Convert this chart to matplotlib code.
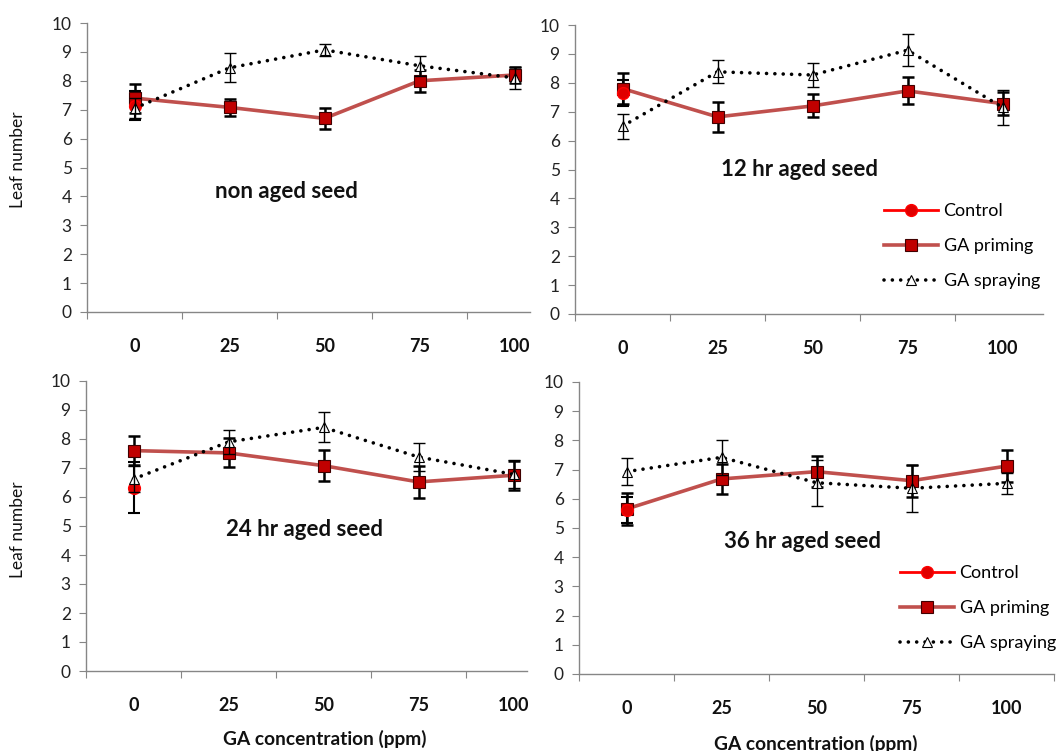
import numpy as np
import matplotlib.pyplot as plt
from matplotlib.lines import Line2D

plt.rcParams['font.family'] = ['Lato', 'DejaVu Sans']

W, H = 1057, 751

conc = ['0', '25', '50', '75', '100']
x = np.arange(5)

titles = ['non aged seed', '12 hr aged seed', '24 hr aged seed', '36 hr aged seed']

# control only at 0 ppm
control = [7.13, 7.64, 6.32, 5.62]
control_err = [0.5, 0.45, 0.87, 0.45]

priming = [
    [7.40, 7.08, 6.70, 8.00, 8.20],
    [7.80, 6.82, 7.20, 7.72, 7.28],
    [7.60, 7.52, 7.08, 6.52, 6.75],
    [5.65, 6.68, 6.93, 6.62, 7.12],
]
priming_err = [
    [0.50, 0.30, 0.37, 0.38, 0.27],
    [0.55, 0.52, 0.40, 0.47, 0.41],
    [0.50, 0.50, 0.53, 0.56, 0.50],
    [0.55, 0.52, 0.53, 0.55, 0.55],
]
spraying = [
    [7.05, 8.45, 9.07, 8.52, 8.10],
    [6.50, 8.38, 8.27, 9.13, 7.15],
    [6.62, 7.90, 8.40, 7.38, 6.78],
    [6.93, 7.42, 6.55, 6.36, 6.53],
]
spraying_err = [
    [0.35, 0.50, 0.22, 0.35, 0.38],
    [0.43, 0.40, 0.43, 0.55, 0.60],
    [0.45, 0.40, 0.52, 0.47, 0.48],
    [0.47, 0.60, 0.78, 0.80, 0.36],
]

# panel boxes in pixels: x0, x1, ytop(10), ybottom(0)
boxes = [(87, 530, 23, 312), (575, 1043, 25, 314),
         (86, 527, 381, 671), (579, 1054, 382, 674)]
title_pos = [(286, 192), (799, 170), (305, 529), (803, 542)]
legend_pos = {1: (884, 246), 3: (900, 608)}

prim_line = '#C0504D'
prim_face = '#C00000'
axis_col = '#868686'
dots = (0, (0.01, 2.3))

fig = plt.figure(figsize=(W / 100, H / 100), dpi=100)

for i in range(4):
    x0, x1, yt, yb = boxes[i]
    ax = fig.add_axes([x0 / W, 1 - yb / H, (x1 - x0) / W, (yb - yt) / H])
    xmax = -0.5 + (x1 - x0) / 95.0
    ax.set_xlim(-0.5, xmax)
    ax.set_ylim(0, 10)
    for s in ['top', 'right']:
        ax.spines[s].set_visible(False)
    for s in ['left', 'bottom']:
        ax.spines[s].set_color(axis_col)
        ax.spines[s].set_linewidth(1)

    ax.set_yticks(range(11))
    ax.tick_params(axis='y', direction='out', length=5, color=axis_col,
                   labelsize=12.5, labelcolor='#222222', pad=6)
    bounds = [b for b in np.arange(-0.5, 5, 1) if b <= xmax + 1e-6]
    ax.set_xticks(bounds)
    ax.set_xticklabels([])
    ax.set_xticks(x, minor=True)
    ax.set_xticklabels(conc, minor=True, fontweight='bold', fontsize=13)
    ax.tick_params(axis='x', which='major', direction='out', length=5, color=axis_col)
    ax.tick_params(axis='x', which='minor', length=0, pad=19, labelcolor='#111111')

    # GA priming
    ax.errorbar(x, priming[i], yerr=priming_err[i], fmt='none', ecolor='black',
                elinewidth=1.8, capsize=4, capthick=1.8, zorder=3)
    ax.plot(x, priming[i], color=prim_line, lw=2.6, marker='s', ms=8.5,
            mfc=prim_face, mec='#400000', mew=0.8, zorder=4)
    # control
    ax.errorbar([0], [control[i]], yerr=[control_err[i]], fmt='none', ecolor='black',
                elinewidth=1.5, capsize=4, capthick=1.5, zorder=3)
    ax.plot([0], [control[i]], color='red', lw=2, marker='o', ms=8.5,
            mfc='#E00000', mec='red', zorder=5)
    # GA spraying
    ax.plot(x, spraying[i], color='black', lw=2.6, linestyle=dots,
            dash_capstyle='round', marker='^', ms=7.5, mfc='white', mec='black',
            mew=0.8, zorder=6)
    ax.errorbar(x, spraying[i], yerr=spraying_err[i], fmt='none', ecolor='black',
                elinewidth=1, capsize=4.5, capthick=1, zorder=7)

    tx, ty = title_pos[i]
    fig.text(tx / W, 1 - ty / H, titles[i], ha='center', va='center',
             fontsize=16, fontweight='bold', color='#111111')

    if i in legend_pos:
        handles = [
            Line2D([], [], color='red', lw=2, marker='o', ms=8.5, mfc='#E00000', mec='red'),
            Line2D([], [], color=prim_line, lw=2.6, marker='s', ms=8.5, mfc=prim_face,
                   mec='#400000', mew=0.8),
            Line2D([], [], color='black', lw=2.6, linestyle=dots, dash_capstyle='round',
                   marker='^', ms=7.5, mfc='white', mec='black', mew=0.8),
        ]
        lx, ly = legend_pos[i]
        ax.legend(handles, ['Control', 'GA priming', 'GA spraying'], loc='center left',
                  bbox_to_anchor=(lx / W, 1 - ly / H), bbox_transform=fig.transFigure,
                  frameon=False, fontsize=13, handlelength=3.0, handletextpad=0.3,
                  labelspacing=1.05, borderpad=0, borderaxespad=0)

fig.text(18 / W, 1 - 160 / H, 'Leaf number', rotation=90, ha='center', va='center',
         fontsize=12.5, color='#111111')
fig.text(18 / W, 1 - 530 / H, 'Leaf number', rotation=90, ha='center', va='center',
         fontsize=12.5, color='#111111')
fig.text(325 / W, 1 - 739 / H, 'GA concentration (ppm)', ha='center', va='center',
         fontsize=13.8, fontweight='bold', color='#111111')
fig.text(816 / W, 1 - 744 / H, 'GA concentration (ppm)', ha='center', va='center',
         fontsize=13.8, fontweight='bold', color='#111111')

fig.savefig('out.png', dpi=100)
